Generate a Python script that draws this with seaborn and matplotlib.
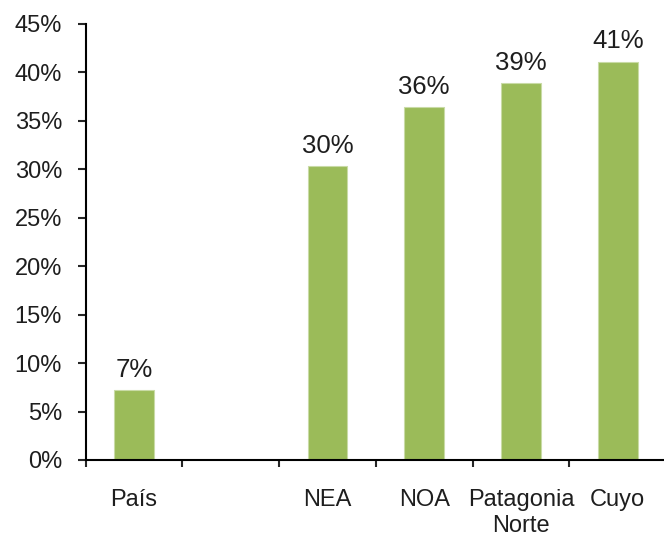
import numpy as np
import pandas as pd
import matplotlib
matplotlib.use("Agg")
import matplotlib.pyplot as plt
from matplotlib.ticker import FixedLocator, FuncFormatter
import seaborn as sns

# Regions shown on the x axis; the blank slot separates the national figure
order = ["País", "", "NEA", "NOA", "Patagonia\nNorte", "Cuyo"]
regions = ["País", "NEA", "NOA", "Patagonia\nNorte", "Cuyo"]
shares = [0.072, 0.303, 0.364, 0.389, 0.411]
y_ticks = [0.00, 0.05, 0.10, 0.15, 0.20, 0.25, 0.30, 0.35, 0.40, 0.45]

bar_color = "#9BBB59"
text_color = "#1e1e1e"

sns.set_theme(style="white")
plt.rcParams["font.family"] = ["Liberation Sans", "DejaVu Sans"]

df = pd.DataFrame({"region": regions, "share": shares})

fig = plt.figure(figsize=(6.64, 5.36), dpi=100)
ax = fig.add_axes([85.6 / 664, 76 / 536, 580.5 / 664, 436 / 536])

sns.barplot(data=df, x="region", y="share", order=order, color=bar_color,
            saturation=1, width=0.41, edgecolor="#c9dba6", linewidth=0.8, ax=ax)

ax.set_xlim(-0.5, len(order) - 0.5)
ax.set_ylim(0, 0.45)
ax.set_xlabel("")
ax.set_ylabel("")

# Value labels above each bar
for cont in ax.containers:
    ax.bar_label(cont, fmt=lambda v: f"{v * 100:.0f}%", padding=6,
                 fontsize=18.5, color=text_color)

# Y axis: percentage ticks pointing outward
ax.yaxis.set_major_locator(FixedLocator(y_ticks))
ax.yaxis.set_major_formatter(FuncFormatter(lambda v, _: f"{v * 100:.0f}%"))
ax.tick_params(axis="y", which="major", direction="out", length=6, width=1.5,
               pad=11, labelsize=17, labelcolor=text_color, left=True)

# X axis: tick marks between categories, names centred under each slot
bounds = np.arange(-0.5, len(order), 1.0)
ax.xaxis.set_major_locator(FixedLocator(bounds))
ax.xaxis.set_major_formatter(FuncFormatter(lambda v, _: ""))
ax.xaxis.set_minor_locator(FixedLocator(np.arange(len(order))))
ax.set_xticklabels(order, minor=True)
ax.tick_params(axis="x", which="major", direction="out", length=5, width=1.5,
               bottom=True)
ax.tick_params(axis="x", which="minor", length=0, pad=21, labelsize=17,
               labelcolor=text_color)
for lbl in ax.get_xticklabels(minor=True):
    lbl.set_linespacing(1.2)

for side in ("top", "right"):
    ax.spines[side].set_visible(False)
for side in ("left", "bottom"):
    ax.spines[side].set_color("black")
    ax.spines[side].set_linewidth(1.5)

fig.savefig("out.png", dpi=100)
